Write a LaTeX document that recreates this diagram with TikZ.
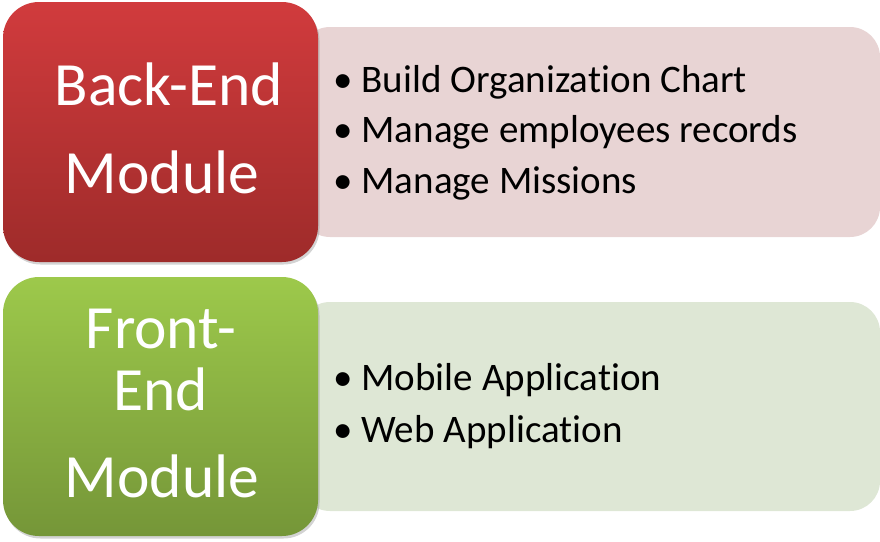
\documentclass[tikz,border=0pt]{standalone}
\usepackage{fontspec}
\setmainfont[Ligatures=NoCommon,RawFeature={-liga;-clig;-calt}]{Carlito}
\usetikzlibrary{shadows}
\definecolor{redtop}{HTML}{D13B3D}
\definecolor{redbot}{HTML}{9E2B2A}
\definecolor{pinkfill}{HTML}{E8D4D4}
\definecolor{greentop}{HTML}{9DC94B}
\definecolor{greenbot}{HTML}{759638}
\definecolor{lgreenfill}{HTML}{DEE7D5}
\tikzset{
  modbox/.style={rounded corners=36pt, drop shadow={shadow xshift=1.5pt, shadow yshift=-2.5pt, opacity=0.35}},
  panel/.style={rounded corners=30pt},
  modtext/.style={text=white, font=\fontsize{61.5}{61.5}\selectfont, anchor=base, inner sep=0pt},
  itemtext/.style={text=black, font=\fontsize{39}{39}\selectfont, anchor=base west, inner sep=0pt},
}
\begin{document}
\begin{tikzpicture}[x=1pt,y=-1pt]
\useasboundingbox (0,0) rectangle (880,541);
% item panels
\path[panel, fill=pinkfill] (300,27) rectangle (880,237);
\path[panel, fill=lgreenfill] (300,302) rectangle (880,511);
% module boxes
\path[modbox, top color=redtop, bottom color=redbot] (3,2) rectangle (318,262);
\path[modbox, top color=greentop, bottom color=greenbot] (3,277) rectangle (318,536);
% module labels
\node[modtext] (be1) at (169,105) {Back-End};
\node[modtext] (be2) at (162,193) {Module};
\node[modtext] (fe1) at (161,348) {Front-};
\node[modtext] (fe2) at (161,410) {End};
\node[modtext] (fe3) at (162,497) {Module};
% items
\node[itemtext] (i1) at (333,92) {•\hspace{9pt}Build Organiza\kern0pt tion Chart};
\node[itemtext] (i2) at (333,142) {•\hspace{9pt}Manage employees records};
\node[itemtext] (i3) at (333,193) {•\hspace{9pt}Manage Missions};
\node[itemtext] (i4) at (333,390) {•\hspace{9pt}Mobile Applica\kern0pt tion};
\node[itemtext] (i5) at (333,442) {•\hspace{9pt}Web Applica\kern0pt tion};
\end{tikzpicture}
\end{document}
